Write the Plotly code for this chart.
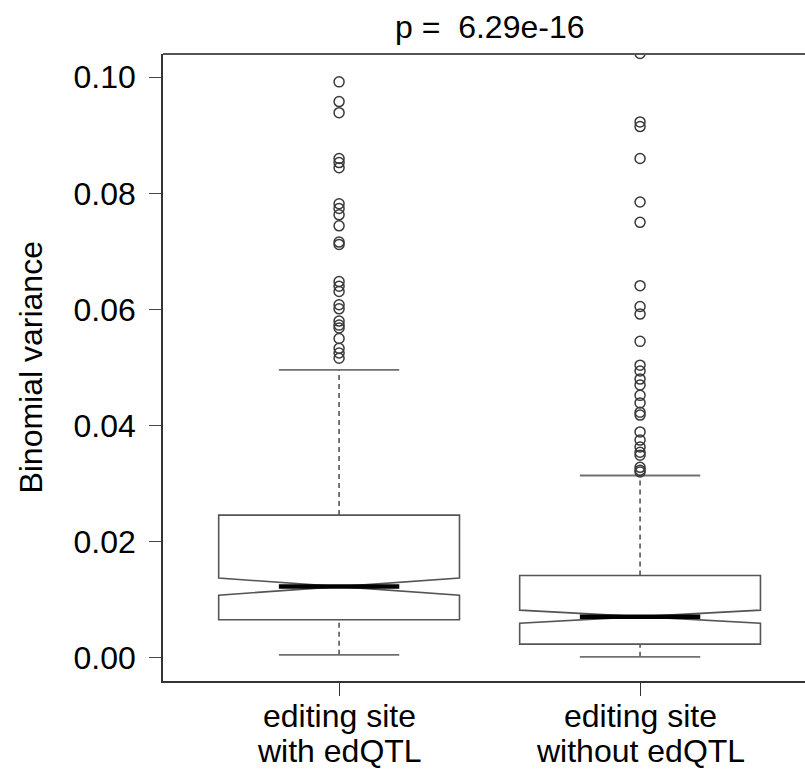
import plotly.graph_objects as go

# ---------------- data ----------------
groups = [1, 2]
label_line1 = ["editing site", "editing site"]
label_line2 = ["with edQTL", "without edQTL"]

q1 = [0.00656, 0.00236]
median = [0.01226, 0.00708]
q3 = [0.02458, 0.01416]
notch_span = [0.00147, 0.00112]
lower_whisker = [0.0005, 0.00017]
upper_whisker = [0.0496, 0.0314]

outliers_with = [0.0992, 0.0958, 0.0939, 0.0860, 0.0853, 0.0844, 0.0782, 0.0774,
                 0.0763, 0.0744, 0.0716, 0.0712, 0.0648, 0.0640, 0.0631, 0.0608,
                 0.0601, 0.0580, 0.0573, 0.0568, 0.0550, 0.0533, 0.0525, 0.0516]
outliers_without = [0.1041, 0.0923, 0.0915, 0.0860, 0.0785, 0.0750, 0.0641, 0.0605,
                    0.0592, 0.0545, 0.0504, 0.0494, 0.0480, 0.0470, 0.0452, 0.0439,
                    0.0423, 0.0418, 0.0389, 0.0375, 0.0363, 0.0354, 0.0349, 0.0328,
                    0.0323, 0.0320]
outliers = [outliers_with, outliers_without]

y_ticks = [0.00, 0.02, 0.04, 0.06, 0.08, 0.10]
title_text = "p =\u00a0\u00a06.29e-16"
y_title = "Binomial variance"

# ---------------- style ----------------
FONT = "Liberation Sans, Arial, sans-serif"
FS = 32
BOX_W = 0.8
STAPLE_FRAC = 0.5
LINE_C = "#555555"

fig = go.Figure()

fig.add_trace(go.Box(
    x=groups, q1=q1, median=median, q3=q3,
    lowerfence=q1, upperfence=q3,
    notched=True, notchspan=notch_span, notchwidth=0.5,
    width=BOX_W, whiskerwidth=0,
    fillcolor="rgba(0,0,0,0)",
    line=dict(color=LINE_C, width=1.6),
    boxpoints=False, hoverinfo="skip", showlegend=False,
))

half_staple = BOX_W / 2 * STAPLE_FRAC
for i, g in enumerate(groups):
    # dashed whiskers
    fig.add_trace(go.Scatter(
        x=[g, g, None, g, g],
        y=[lower_whisker[i], q1[i], None, q3[i], upper_whisker[i]],
        mode="lines", line=dict(color=LINE_C, width=1.6, dash="5px,4px"),
        showlegend=False, hoverinfo="skip"))
    # staples
    fig.add_trace(go.Scatter(
        x=[g - half_staple, g + half_staple, None, g - half_staple, g + half_staple],
        y=[lower_whisker[i], lower_whisker[i], None, upper_whisker[i], upper_whisker[i]],
        mode="lines", line=dict(color="#707070", width=1.8),
        showlegend=False, hoverinfo="skip"))
    # thick median
    fig.add_trace(go.Scatter(
        x=[g - half_staple, g + half_staple], y=[median[i], median[i]],
        mode="lines", line=dict(color="black", width=4.5),
        showlegend=False, hoverinfo="skip"))
    # outliers
    fig.add_trace(go.Scatter(
        x=[g] * len(outliers[i]), y=outliers[i], mode="markers",
        marker=dict(symbol="circle-open", size=10, color="#3a3a3a",
                    line=dict(width=1.5, color="#3a3a3a")),
        showlegend=False, hoverinfo="skip"))

annotations = []
for i, g in enumerate(groups):
    annotations.append(dict(x=g, xref="x", y=-0.056, yref="paper", text=label_line1[i],
                            showarrow=False, yanchor="middle",
                            font=dict(family=FONT, size=FS, color="black")))
    annotations.append(dict(x=g, xref="x", y=-0.111, yref="paper", text=label_line2[i],
                            showarrow=False, yanchor="middle",
                            font=dict(family=FONT, size=FS, color="black")))
annotations.append(dict(x=1.5, xref="x", y=1.043, yref="paper", text=title_text,
                        showarrow=False, yanchor="middle",
                        font=dict(family=FONT, size=FS, color="black")))
annotations.append(dict(x=-0.207, xref="paper", y=0.5, yref="paper", text=y_title,
                        textangle=-90, showarrow=False, xanchor="center", yanchor="middle",
                        font=dict(family=FONT, size=FS, color="black")))

fig.update_layout(
    width=805, height=775,
    margin=dict(l=163, r=0, t=54, b=94),
    paper_bgcolor="white", plot_bgcolor="white",
    font=dict(family=FONT, size=FS, color="black"),
    annotations=annotations,
    shapes=[dict(type="line", xref="paper", yref="paper", x0=0, x1=1, y0=1, y1=1,
                 layer="above", line=dict(color="#555555", width=2))],
    xaxis=dict(range=[0.415, 2.548], tickvals=groups, showticklabels=False,
               ticks="outside", ticklen=13, tickcolor="#333", tickwidth=1.3,
               showline=True, linecolor="#333", linewidth=1.5, mirror=False,
               showgrid=False, zeroline=False),
    yaxis=dict(range=[-0.004, 0.104], tickvals=y_ticks, tickformat=".2f",
               ticks="outside", ticklen=12, tickcolor="#444", tickwidth=1.3,
               ticklabelstandoff=7,
               showline=True, linecolor="#333", linewidth=1.5, mirror=False,
               showgrid=False, zeroline=False,
               tickfont=dict(family=FONT, size=FS, color="black")),
)

fig.write_html("out.html")
